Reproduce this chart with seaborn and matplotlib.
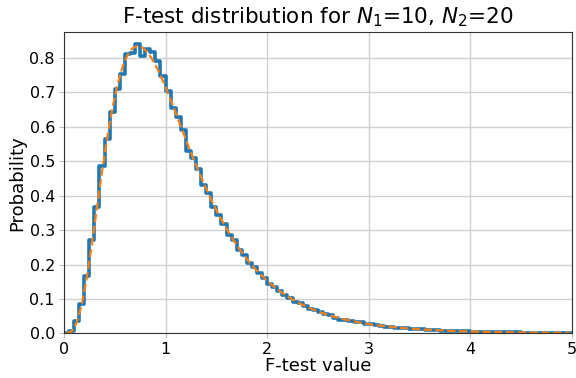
import numpy as np
import pandas as pd
import seaborn as sns
import matplotlib
import matplotlib.pyplot as plt
matplotlib.use('Agg')

sns.set_style('ticks')
plt.rcParams['text.color'] = 'black'
plt.rcParams['axes.labelcolor'] = 'black'
plt.rcParams['xtick.labelcolor'] = 'black'
plt.rcParams['ytick.labelcolor'] = 'black'

# histograma normalizado (largura de bin 0.05, de 0 a 5)
bin_edges = np.linspace(0, 5, 101)
hist_vals = [
    0.0002, 0.008, 0.037, 0.085, 0.167, 0.270, 0.367, 0.485, 0.564, 0.644,
    0.711, 0.754, 0.812, 0.815, 0.840, 0.806, 0.826, 0.818, 0.790, 0.748,
    0.703, 0.655, 0.628, 0.590, 0.530, 0.508, 0.478, 0.430, 0.408, 0.368,
    0.345, 0.318, 0.286, 0.270, 0.243, 0.227, 0.205, 0.192, 0.174, 0.162,
    0.143, 0.135, 0.124, 0.111, 0.104, 0.092, 0.087, 0.080, 0.071, 0.067,
    0.062, 0.055, 0.052, 0.046, 0.038, 0.040, 0.037, 0.034, 0.032, 0.028,
    0.027, 0.024, 0.021, 0.020, 0.019, 0.017, 0.016, 0.015, 0.013, 0.012,
    0.0115, 0.011, 0.0095, 0.0092, 0.0083, 0.0078, 0.0070, 0.0069, 0.0060, 0.0058,
    0.0052, 0.0050, 0.0047, 0.0041, 0.0041, 0.0036, 0.0035, 0.0031, 0.0030, 0.0027,
    0.0026, 0.0024, 0.0022, 0.0021, 0.0018, 0.0019, 0.0016, 0.0016, 0.0014, 0.0015,
]

pdf_vals = [
    0.0001, 0.0057, 0.0308, 0.0834, 0.1620, 0.2590, 0.3649, 0.4699, 0.5671, 0.6514,
    0.7200, 0.7724, 0.8081, 0.8284, 0.8349, 0.8300, 0.8155, 0.7932, 0.7649, 0.7322,
    0.6964, 0.6588, 0.6205, 0.5820, 0.5438, 0.5066, 0.4706, 0.4364, 0.4037, 0.3728,
    0.3439, 0.3168, 0.2914, 0.2679, 0.2460, 0.2258, 0.2071, 0.1899, 0.1742, 0.1596,
    0.1462, 0.1340, 0.1227, 0.1124, 0.1030, 0.0943, 0.0864, 0.0792, 0.0726, 0.0665,
    0.0610, 0.0560, 0.0514, 0.0471, 0.0433, 0.0397, 0.0365, 0.0335, 0.0308, 0.0283,
    0.0260, 0.0239, 0.0220, 0.0203, 0.0187, 0.0172, 0.0159, 0.0147, 0.0135, 0.0125,
    0.0115, 0.0107, 0.0099, 0.0091, 0.0085, 0.0078, 0.0072, 0.0067, 0.0062, 0.0058,
    0.0054, 0.0050, 0.0046, 0.0043, 0.0040, 0.0037, 0.0034, 0.0032, 0.0030, 0.0028,
    0.0026, 0.0024, 0.0022, 0.0021, 0.0019, 0.0018, 0.0017, 0.0016, 0.0015, 0.0014,
]

centers = (bin_edges[:-1] + bin_edges[1:]) / 2
df = pd.DataFrame({'x': centers, 'hist': hist_vals, 'pdf': pdf_vals})

fig, ax = plt.subplots(figsize=(5.76, 3.78), dpi=100)
fig.subplots_adjust(left=0.111, right=0.993, top=0.915, bottom=0.118)

sns.histplot(data=df, x='x', weights='hist', bins=len(centers), binrange=(0, 5),
             element='step', fill=False, color='#1f77b4', linewidth=2.6, ax=ax)
sns.lineplot(data=df, x='x', y='pdf', color='#ff7f0e', linestyle='--',
             linewidth=1.6, ax=ax)

ax.set_xlim(0, 5)
ax.set_ylim(0, 0.875)
ax.set_yticks(np.arange(0, 0.81, 0.1))
ax.grid(True, color='#d0d0d0', linewidth=1.0)
ax.set_axisbelow(True)
for s in ax.spines.values():
    s.set_color('#333333')
ax.tick_params(labelsize=11.5, length=3.5, color='#bbbbbb', pad=3)
ax.set_xlabel('F-test value', fontsize=13, labelpad=0)
ax.set_ylabel('Probability', fontsize=13, labelpad=2)
ax.set_title('F-test distribution for $N_1$=10, $N_2$=20', fontsize=15.5)

fig.savefig('out.png')
plt.close()
